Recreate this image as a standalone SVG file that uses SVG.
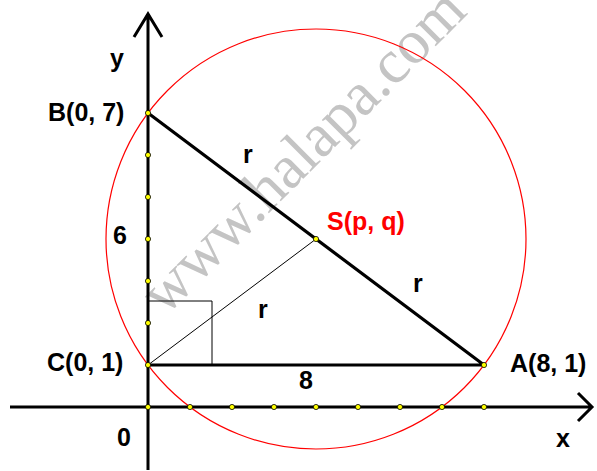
<svg xmlns="http://www.w3.org/2000/svg" width="597" height="471" viewBox="0 0 597 471">
<style>
.lbl{font-family:"Liberation Sans",Arial,sans-serif;font-weight:bold;font-size:25px;fill:#000}
.red{fill:#ff0000}
.axis{stroke:#000;stroke-width:3;fill:none}
.thick{stroke:#000;stroke-width:3.2;fill:none}
.thin{stroke:#000;stroke-width:1;fill:none}
.pt{fill:#ffff00;stroke:#000;stroke-width:0.8}
.wm{font-family:"Liberation Serif","Times New Roman",serif;font-size:62px;fill:#c4c4c4}
</style>
<rect width="597" height="471" fill="#fff"/>
<text class="wm" transform="translate(165,317) rotate(-45)">www.halapa.com</text>
<g id="connectors">
  <circle id="circle" cx="316" cy="239" r="210" fill="none" stroke="#ff0000" stroke-width="1.2"/>
  <path class="axis" d="M148 470 V14 M134 37 L148 14 L162 37"/>
  <path class="axis" d="M10 407 H592 M578 393 L592 407 L578 421"/>
  <path class="thick" d="M148 113 L484 365 M148 365 H484"/>
  <path class="thin" d="M148 365 L316 239"/>
  <path class="thin" d="M148 301 H212 V365"/>
</g>
<g id="points">
  <circle class="pt" cx="148" cy="113" r="2.6"/>
  <circle class="pt" cx="148" cy="155" r="2.6"/>
  <circle class="pt" cx="148" cy="197" r="2.6"/>
  <circle class="pt" cx="148" cy="239" r="2.6"/>
  <circle class="pt" cx="148" cy="281" r="2.6"/>
  <circle class="pt" cx="148" cy="323" r="2.6"/>
  <circle class="pt" cx="148" cy="365" r="2.6"/>
  <circle class="pt" cx="148" cy="407" r="2.6"/>
  <circle class="pt" cx="190" cy="407" r="2.6"/>
  <circle class="pt" cx="232" cy="407" r="2.6"/>
  <circle class="pt" cx="274" cy="407" r="2.6"/>
  <circle class="pt" cx="316" cy="407" r="2.6"/>
  <circle class="pt" cx="358" cy="407" r="2.6"/>
  <circle class="pt" cx="400" cy="407" r="2.6"/>
  <circle class="pt" cx="442" cy="407" r="2.6"/>
  <circle class="pt" cx="484" cy="407" r="2.6"/>
  <circle class="pt" cx="484" cy="365" r="2.6"/>
  <circle class="pt" cx="316" cy="239" r="2.6"/>
</g>
<g id="B"><text class="lbl" x="48" y="121">B(0, 7)</text></g>
<g id="C"><text class="lbl" x="47" y="371">C(0, 1)</text></g>
<g id="A"><text class="lbl" x="510" y="372">A(8, 1)</text></g>
<g id="S"><text class="lbl red" x="327" y="230">S(p, q)</text></g>
<g id="labels">
  <text class="lbl" x="110" y="67">y</text>
  <text class="lbl" x="556" y="447">x</text>
  <text class="lbl" x="117" y="446">0</text>
  <text class="lbl" x="113" y="244">6</text>
  <text class="lbl" x="299" y="389">8</text>
  <text class="lbl" x="243" y="163">r</text>
  <text class="lbl" x="413" y="292">r</text>
  <text class="lbl" x="258" y="318">r</text>
</g>
</svg>
